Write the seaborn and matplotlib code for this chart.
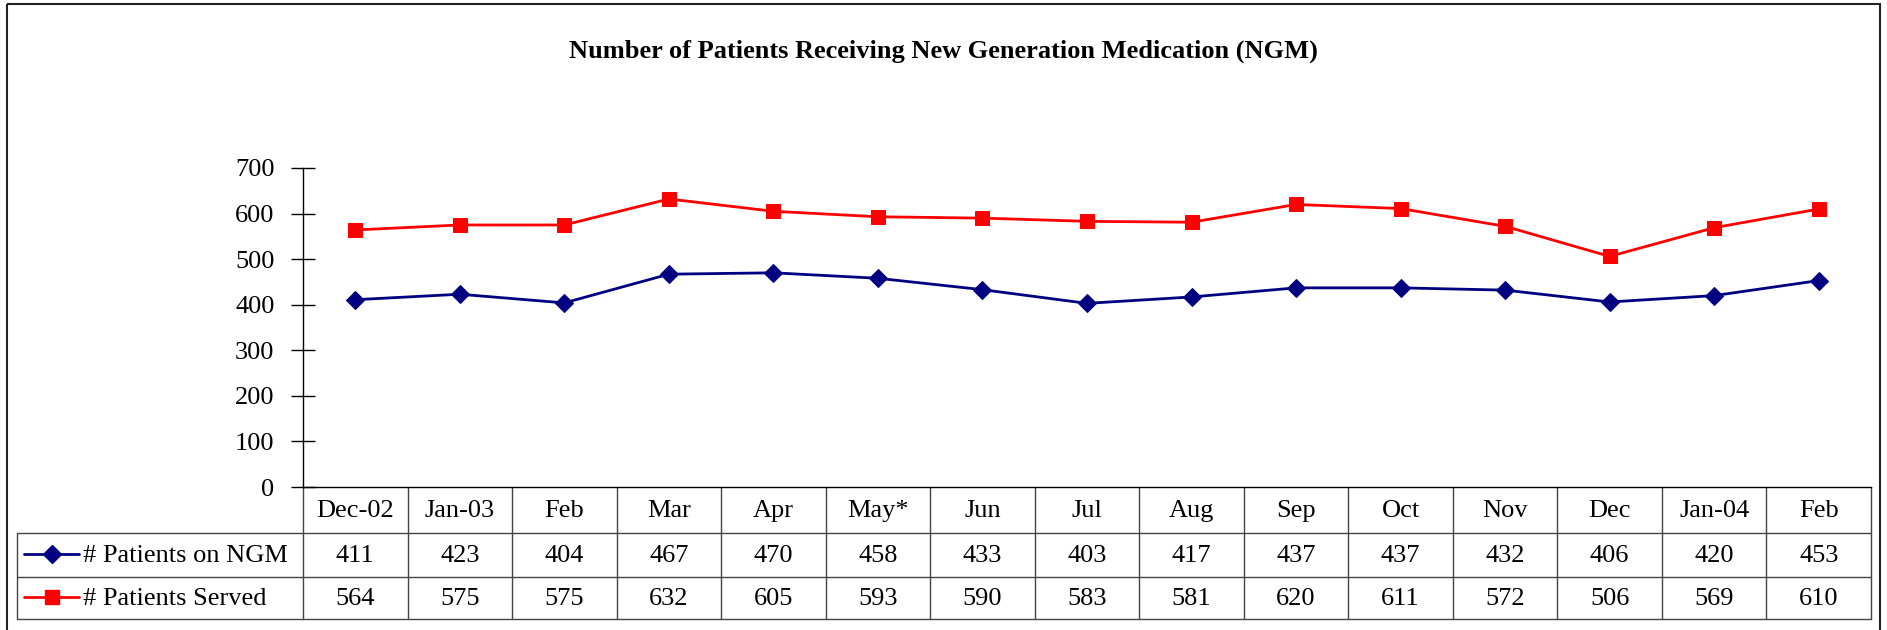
import matplotlib
matplotlib.use("Agg")
import matplotlib.pyplot as plt
import matplotlib.transforms as mtransforms
import seaborn as sns
import pandas as pd
from matplotlib.patches import Rectangle
from matplotlib.lines import Line2D

# ---- data -------------------------------------------------------------
months = ["Dec-02", "Jan-03", "Feb", "Mar", "Apr", "May*", "Jun", "Jul",
          "Aug", "Sep", "Oct", "Nov", "Dec", "Jan-04", "Feb"]
patients_on_ngm = [411, 423, 404, 467, 470, 458, 433, 403, 417, 437, 437, 432, 406, 420, 453]
patients_served = [564, 575, 575, 632, 605, 593, 590, 583, 581, 620, 611, 572, 506, 569, 610]
series_names = ["# Patients on NGM", "# Patients Served"]
y_ticks = [0, 100, 200, 300, 400, 500, 600, 700]
title = "Number of Patients Receiving New Generation Medication (NGM)"

# ---- styling ----------------------------------------------------------
sns.set_theme(style="white")
plt.rcParams["font.family"] = ["Liberation Serif", "DejaVu Serif"]
FS = 19
colors = {series_names[0]: "#000080", series_names[1]: "#FF0000"}
markers = {series_names[0]: "D", series_names[1]: "s"}
msizes = {series_names[0]: 9, series_names[1]: 10.5}
LW = 2.0

W, H = 1887, 630
fig = plt.figure(figsize=(W / 100, H / 100), dpi=100)
fig.patch.set_facecolor("white")

def fx(px):
    return px / W

def fy(py):
    return 1 - py / H

# overlay in pixel coordinates for the frame and the data table
over = fig.add_axes([0, 0, 1, 1], zorder=0)
over.set_xlim(0, W)
over.set_ylim(H, 0)
over.axis("off")
over.patch.set_alpha(0)

# main plot area
ax = fig.add_axes([fx(303), fy(487), fx(1871) - fx(303), fy(168) - fy(487)], zorder=1)
ax.patch.set_alpha(0)

n = len(months)
df = pd.DataFrame({
    "pos": list(range(n)) * 2,
    "value": patients_on_ngm + patients_served,
    "series": [series_names[0]] * n + [series_names[1]] * n,
})

for name in series_names:
    sub = df[df["series"] == name]
    sns.lineplot(data=sub, x="pos", y="value", ax=ax, color=colors[name],
                 marker=markers[name], markersize=msizes[name],
                 markeredgecolor=colors[name], linewidth=LW, legend=False)

ax.set_xlim(-0.5, n - 0.5)
ax.set_ylim(0, 700)
ax.set_yticks(y_ticks)
ax.set_yticklabels([str(t) for t in y_ticks], fontsize=FS)
ax.set_xticks([])
ax.set_xlabel("")
ax.set_ylabel("")
for side in ["top", "right"]:
    ax.spines[side].set_visible(False)
for side in ["left", "bottom"]:
    ax.spines[side].set_color("black")
    ax.spines[side].set_linewidth(1.0)
ax.tick_params(axis="y", direction="inout", length=17, width=1.0, color="black",
               pad=12, labelcolor="black", left=True)

# title
fig.text(fx(943), fy(51), title, ha="center", va="center", fontsize=FS,
         fontweight="bold", color="black")

# outer frame
over.add_patch(Rectangle((7, 4), 1873, 700, fill=False, edgecolor="#222222",
                         linewidth=1.5))

# ---- data table ------------------------------------------------------
blend = mtransforms.blended_transform_factory(ax.transData, over.transData)
row_edges = [487, 533, 577, 619]
legend_left = 17
legend_right = 303
line_kw = dict(color="#444444", linewidth=1.0)

# horizontal rules
for y in row_edges[1:]:
    over.add_line(Line2D([legend_left, legend_right], [y, y], **line_kw))
    ax.add_line(Line2D([-0.5, n - 0.5], [y, y], transform=blend, clip_on=False, **line_kw))
over.add_line(Line2D([legend_left, legend_left], [row_edges[1], row_edges[3]], **line_kw))

# vertical rules between month columns
for k in range(n + 1):
    ax.add_line(Line2D([k - 0.5, k - 0.5], [row_edges[0], row_edges[3]],
                       transform=blend, clip_on=False, **line_kw))

# header and values
row_centers = [(row_edges[i] + row_edges[i + 1]) / 2 for i in range(3)]
for i, m in enumerate(months):
    ax.text(i, row_centers[0] + 1, m, transform=blend, ha="center", va="center",
            fontsize=FS, color="black", clip_on=False)
    ax.text(i, row_centers[1] + 1, str(patients_on_ngm[i]), transform=blend,
            ha="center", va="center", fontsize=FS, color="black", clip_on=False)
    ax.text(i, row_centers[2] + 1, str(patients_served[i]), transform=blend,
            ha="center", va="center", fontsize=FS, color="black", clip_on=False)

# legend keys inside the table
for r, name in enumerate(series_names):
    yc = row_centers[r + 1]
    over.add_line(Line2D([24, 79], [yc - 1, yc - 1], color=colors[name], linewidth=LW))
    over.add_line(Line2D([52], [yc - 1], color=colors[name], marker=markers[name],
                         markersize=msizes[name], markeredgecolor=colors[name]))
    over.text(83, yc + 1, name, ha="left", va="center", fontsize=FS, color="black")

fig.savefig("out.png", dpi=100, facecolor="white")
